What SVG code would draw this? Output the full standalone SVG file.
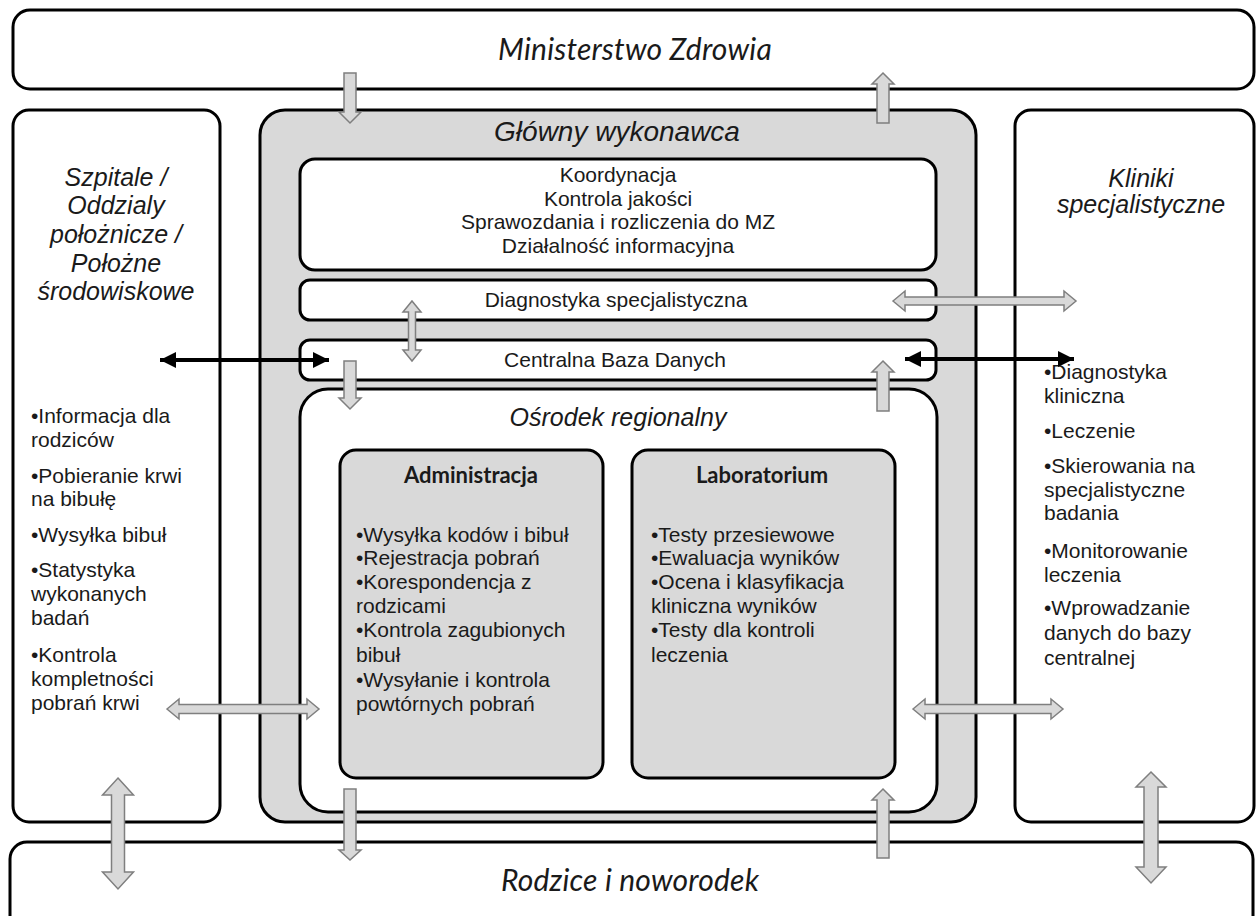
<svg xmlns="http://www.w3.org/2000/svg" width="1258" height="916" viewBox="0 0 1258 916">
  <style>
    .box { fill: #ffffff; stroke: #000000; stroke-width: 3; }
    .grey { fill: #d9d9d9; stroke: #000000; stroke-width: 3; }
    .block { fill: #d9d9d9; stroke: #7f7f7f; stroke-width: 1.5; stroke-linejoin: miter; }
    .link { stroke: #000000; stroke-width: 4; fill: none; }
    .title { font-family: Lato, "Liberation Sans", sans-serif; font-style: italic; font-size: 30px; fill: #1a1a1a; text-anchor: middle; letter-spacing: 0.2px; }
    .head { font-family: "Liberation Sans", Arial, sans-serif; font-style: italic; font-size: 25px; fill: #1a1a1a; text-anchor: middle; }
    .sub { font-family: Lato, "Liberation Sans", sans-serif; font-weight: bold; font-size: 22px; fill: #1a1a1a; text-anchor: middle; }
    .body { font-family: "Liberation Sans", Arial, sans-serif; font-size: 21px; fill: #1a1a1a; }
    .mid { text-anchor: middle; }
  </style>
  <defs>
    <marker id="tip" viewBox="0 0 16 16" refX="16" refY="8" markerWidth="16" markerHeight="16" markerUnits="userSpaceOnUse" orient="auto-start-reverse">
      <path d="M0,0 L16,8 L0,16 Z" fill="#000000"/>
    </marker>
  </defs>

  <!-- outer parties -->
  <g id="ministerstwo">
    <rect class="box" x="13" y="10" width="1241" height="79" rx="17"/>
    <text class="title" x="635" y="60">Ministerstwo Zdrowia</text>
  </g>

  <g id="rodzice">
    <rect class="box" x="10" y="842" width="1243" height="100" rx="17"/>
    <text class="title" x="630" y="891">Rodzice i noworodek</text>
  </g>

  <g id="szpitale">
    <rect class="box" x="13" y="110" width="207" height="712" rx="16"/>
    <text class="head" x="116" y="186">Szpitale /</text>
    <text class="head" x="116" y="214">Oddzialy</text>
    <text class="head" x="116" y="243">położnicze /</text>
    <text class="head" x="116" y="272">Położne</text>
    <text class="head" x="116" y="300">środowiskowe</text>
    <text class="body" x="31" y="423">•Informacja dla</text>
    <text class="body" x="31" y="447">rodziców</text>
    <text class="body" x="31" y="483">•Pobieranie krwi</text>
    <text class="body" x="31" y="506">na bibułę</text>
    <text class="body" x="31" y="542">•Wysyłka bibuł</text>
    <text class="body" x="31" y="577">•Statystyka</text>
    <text class="body" x="31" y="601">wykonanych</text>
    <text class="body" x="31" y="625">badań</text>
    <text class="body" x="31" y="662">•Kontrola</text>
    <text class="body" x="31" y="686">kompletności</text>
    <text class="body" x="31" y="710">pobrań krwi</text>
  </g>

  <g id="kliniki">
    <rect class="box" x="1015" y="110" width="239" height="712" rx="16"/>
    <text class="head" x="1141" y="187">Kliniki</text>
    <text class="head" x="1141" y="213">specjalistyczne</text>
    <text class="body" x="1044" y="379">•Diagnostyka</text>
    <text class="body" x="1044" y="403">kliniczna</text>
    <text class="body" x="1044" y="438">•Leczenie</text>
    <text class="body" x="1044" y="473">•Skierowania na</text>
    <text class="body" x="1044" y="497">specjalistyczne</text>
    <text class="body" x="1044" y="520">badania</text>
    <text class="body" x="1044" y="558">•Monitorowanie</text>
    <text class="body" x="1044" y="582">leczenia</text>
    <text class="body" x="1044" y="615">•Wprowadzanie</text>
    <text class="body" x="1044" y="640">danych do bazy</text>
    <text class="body" x="1044" y="665">centralnej</text>
  </g>

  <!-- main contractor -->
  <g id="glowny-wykonawca">
    <rect class="grey" x="260" y="110" width="716" height="712" rx="25"/>
    <text class="head" x="617" y="141" style="font-size:28px">Główny wykonawca</text>
  </g>

  <g id="koordynacja">
    <rect class="box" x="300" y="159" width="636" height="111" rx="15"/>
    <text class="body mid" x="618" y="182">Koordynacja</text>
    <text class="body mid" x="618" y="205.5">Kontrola jakości</text>
    <text class="body mid" x="618" y="229">Sprawozdania i rozliczenia do MZ</text>
    <text class="body mid" x="618" y="252.5">Działalność informacyjna</text>
  </g>

  <g id="diagnostyka">
    <rect class="box" x="300" y="280" width="636" height="40" rx="10"/>
    <text class="body mid" x="616" y="307">Diagnostyka specjalistyczna</text>
  </g>

  <g id="baza-danych">
    <rect class="box" x="300" y="340" width="636" height="40" rx="10"/>
    <text class="body mid" x="615" y="367">Centralna Baza Danych</text>
  </g>

  <g id="osrodek">
    <rect class="box" x="300" y="389" width="637" height="423" rx="28"/>
    <text class="head" x="618" y="426">Ośrodek regionalny</text>
  </g>

  <g id="administracja">
    <rect class="grey" x="340" y="450" width="263" height="328" rx="16"/>
    <text class="sub" x="471" y="483">Administracja</text>
    <text class="body" x="356" y="542">•Wysyłka kodów i bibuł</text>
    <text class="body" x="356" y="565">•Rejestracja pobrań</text>
    <text class="body" x="356" y="589">•Korespondencja z</text>
    <text class="body" x="356" y="613">rodzicami</text>
    <text class="body" x="356" y="637">•Kontrola zagubionych</text>
    <text class="body" x="356" y="662">bibuł</text>
    <text class="body" x="356" y="687">•Wysyłanie i kontrola</text>
    <text class="body" x="356" y="711">powtórnych pobrań</text>
  </g>

  <g id="laboratorium">
    <rect class="grey" x="632" y="450" width="263" height="328" rx="16"/>
    <text class="sub" x="762" y="483">Laboratorium</text>
    <text class="body" x="651" y="542">•Testy przesiewowe</text>
    <text class="body" x="651" y="565">•Ewaluacja wyników</text>
    <text class="body" x="651" y="589">•Ocena i klasyfikacja</text>
    <text class="body" x="651" y="613">kliniczna wyników</text>
    <text class="body" x="651" y="637">•Testy dla kontroli</text>
    <text class="body" x="651" y="662">leczenia</text>
  </g>

  <!-- flows -->
  <g id="connectors">
    <!-- ministry <-> main contractor -->
    <path class="block" d="M344,73 H356 V112 H361 L350,123 L339,112 H344 Z"/>
    <path class="block" d="M883,73 L894,84 H889 V123 H877 V84 H872 Z"/>
    <!-- specialist diagnostics <-> database -->
    <path class="block" d="M412,301 L421,312 H415.5 V350 H421 L412,361 L403,350 H408.5 V312 H403 Z"/>
    <!-- specialist diagnostics <-> clinics -->
    <path class="block" d="M893,301 L905,291 V297 H1064 V291 L1076,301 L1064,311 V305 H905 V311 Z"/>
    <!-- database data exchange -->
    <line class="link" x1="160" y1="360" x2="329" y2="360" marker-start="url(#tip)" marker-end="url(#tip)"/>
    <line class="link" x1="905" y1="359" x2="1074" y2="359" marker-start="url(#tip)" marker-end="url(#tip)"/>
    <!-- database <-> regional centre -->
    <path class="block" d="M344,361 H356 V398 H361 L350,409 L339,398 H344 Z"/>
    <path class="block" d="M883,361 L894,372 H889 V411 H877 V372 H872 Z"/>
    <!-- regional centre <-> hospitals / clinics -->
    <path class="block" d="M167,709 L179,699 V704.5 H307 V699 L319,709 L307,719 V713.5 H179 V719 Z"/>
    <path class="block" d="M913,709 L925,699 V704.5 H1051 V699 L1063,709 L1051,719 V713.5 H925 V719 Z"/>
    <!-- regional centre <-> parents -->
    <path class="block" d="M344,789 H356 V850 H361 L350,860 L339,850 H344 Z"/>
    <path class="block" d="M883,789 L894,800 H889 V858 H877 V800 H872 Z"/>
    <!-- hospitals / clinics <-> parents -->
    <path class="block" d="M118,778 L133.5,795 H124.5 V872 H133.5 L118,889 L102.5,872 H111.5 V795 H102.5 Z"/>
    <path class="block" d="M1151,772 L1166,787 H1158 V867 H1166 L1151,883 L1136,867 H1144 V787 H1136 Z"/>
  </g>
</svg>
